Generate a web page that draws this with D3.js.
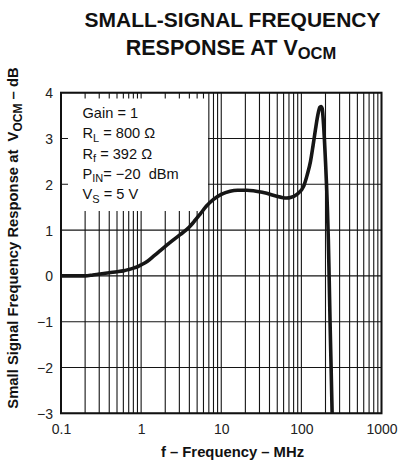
<!DOCTYPE html>
<html>
<head>
<meta charset="utf-8">
<script src="https://cdn.jsdelivr.net/npm/d3@7"></script>
<style>
html,body{margin:0;padding:0;background:#fff;}
svg{display:block;font-family:"Liberation Sans",Arial,Helvetica,sans-serif;}
</style>
</head>
<body>
<svg id="chart" width="405" height="464"></svg>
<script>
// ---- data ----
const freqMHz = [0.1, 0.15, 0.2, 0.25, 0.3, 0.4, 0.5, 0.6, 0.7, 0.8, 0.9, 1.0, 1.2, 1.43, 1.7, 2.09, 2.5, 3.07, 4.0, 4.5, 5.46, 6.5, 8.0, 10, 12.9, 16, 20.9, 33.5, 54.8, 66, 73, 88, 107, 118, 130, 140, 150, 160, 170, 176, 182, 190, 200, 206, 211, 217, 222, 228, 235, 242];
const responseDB = [0, 0, 0, 0.02, 0.04, 0.07, 0.09, 0.11, 0.14, 0.17, 0.2, 0.24, 0.32, 0.43, 0.54, 0.67, 0.78, 0.9, 1.07, 1.17, 1.35, 1.52, 1.67, 1.78, 1.85, 1.87, 1.87, 1.82, 1.72, 1.70, 1.71, 1.78, 1.96, 2.2, 2.5, 2.85, 3.2, 3.5, 3.68, 3.7, 3.65, 3.25, 2.5, 2.0, 1.5, 0.8, 0.0, -1.0, -2.0, -3.0];
const xTickValues = [0.1, 1, 10, 100, 1000];
const xTickLabels = ["0.1", "1", "10", "100", "1000"];
const yTickValues = [-3, -2, -1, 0, 1, 2, 3, 4];
const yTickLabels = ["\u22123", "\u22122", "\u22121", "0", "1", "2", "3", "4"];
const decades = [0.1, 1, 10, 100];
const titleLine1 = "SMALL-SIGNAL FREQUENCY";
const titleLine2 = ["RESPONSE AT V", "OCM"];
const xTitle = "f \u2013 Frequency \u2013 MHz";
const yTitle = ["Small Signal Frequency Response at  V", "OCM", " \u2013 dB"];
const legendLines = [
  ["Gain = 1", "", ""],
  ["R", "L", " = 800 \u03A9"],
  ["R", "f", " = 392 \u03A9"],
  ["P", "IN", "= \u221220  dBm"],
  ["V", "S", " = 5 V"]
];

// ---- layout ----
const svg = d3.select("#chart");
const pL = 61, pR = 381.5, pT = 92.7, pB = 413.3;
const x = d3.scaleLog().domain([0.1, 1000]).range([pL, pR]);
const y = d3.scaleLinear().domain([-3, 4]).range([pB, pT]);

// grid: minor + major verticals
const vLines = [];
decades.forEach(d => { for (let k = 1; k <= 9; k++) vLines.push(d * k); });
vLines.push(1000);
svg.append("g").selectAll("line").data(vLines).join("line")
  .attr("x1", d => x(d)).attr("x2", d => x(d))
  .attr("y1", pT).attr("y2", pB)
  .attr("stroke", "#141414").attr("stroke-width", 1.1);
svg.append("g").selectAll("line").data(yTickValues).join("line")
  .attr("x1", pL).attr("x2", pR)
  .attr("y1", d => y(d)).attr("y2", d => y(d))
  .attr("stroke", "#141414").attr("stroke-width", 1.1);

// legend box (white)
svg.append("rect").attr("x", 68).attr("y", 98.5).attr("width", 140).attr("height", 112.5).attr("fill", "#fff");

const legG = svg.append("g").attr("font-size", 14.6).attr("fill", "#111");
legendLines.forEach((ln, i) => {
  const t = legG.append("text").attr("x", 82.5).attr("y", 118.2 + i * 20.2).attr("xml:space", "preserve").style("white-space", "pre");
  t.append("tspan").text(ln[0]);
  if (ln[1]) {
    t.append("tspan").attr("font-size", 11).attr("dy", 3.5).text(ln[1]);
    t.append("tspan").attr("dy", -3.5).text(ln[2]);
  }
});

// frame
svg.append("rect").attr("x", pL).attr("y", pT).attr("width", pR - pL).attr("height", pB - pT)
  .attr("fill", "none").attr("stroke", "#111").attr("stroke-width", 2);

// curve
svg.append("clipPath").attr("id", "clip").append("rect")
  .attr("x", pL).attr("y", pT).attr("width", pR - pL).attr("height", pB - pT);
const pts = freqMHz.map((f, i) => [f, responseDB[i]]);
const line = d3.line().x(d => x(d[0])).y(d => y(d[1])).curve(d3.curveMonotoneX);
svg.append("path").datum(pts).attr("d", line).attr("clip-path", "url(#clip)")
  .attr("fill", "none").attr("stroke", "#161616").attr("stroke-width", 3.6)
  .attr("stroke-linejoin", "round").attr("stroke-linecap", "butt");

// axes tick labels
const xAxis = d3.axisBottom(x).tickValues(xTickValues).tickFormat((d, i) => xTickLabels[i]).tickSize(0).tickPadding(0);
const xg = svg.append("g").attr("transform", `translate(0,${pB})`).call(xAxis);
xg.select(".domain").remove();
xg.selectAll("text").attr("font-size", 14).attr("fill", "#222").attr("dy", null).attr("y", 20.5);
xg.attr("font-family", null).attr("font-size", null);

const yAxis = d3.axisLeft(y).tickValues(yTickValues).tickFormat((d, i) => yTickLabels[i]).tickSize(0).tickPadding(0);
const yg = svg.append("g").attr("transform", `translate(${pL},0)`).call(yAxis);
yg.select(".domain").remove();
yg.selectAll("text").attr("font-size", 14).attr("fill", "#222").attr("dy", "0.36em").attr("x", -8);
yg.attr("font-family", null).attr("font-size", null);

// titles
const tG = svg.append("g").attr("font-weight", "bold").attr("fill", "#111");
tG.append("text").attr("x", 232.5).attr("y", 27.3).attr("text-anchor", "middle").attr("font-size", 21).text(titleLine1);
const t2 = tG.append("text").attr("x", 231).attr("y", 55).attr("text-anchor", "middle").attr("font-size", 21.5);
t2.append("tspan").text(titleLine2[0]);
t2.append("tspan").attr("font-size", 16.5).attr("dy", 3.5).text(titleLine2[1]);

tG.append("text").attr("x", 232.5).attr("y", 456.5).attr("text-anchor", "middle").attr("font-size", 14.8).text(xTitle);

const yt = tG.append("text").attr("transform", "translate(18.3,238) rotate(-90)").attr("text-anchor", "middle")
  .attr("font-size", 14.8).attr("xml:space", "preserve").style("white-space", "pre");
yt.append("tspan").text(yTitle[0]);
yt.append("tspan").attr("font-size", 12).attr("dy", 3.5).text(yTitle[1]);
yt.append("tspan").attr("dy", -3.5).text(yTitle[2]);
</script>
</body>
</html>
